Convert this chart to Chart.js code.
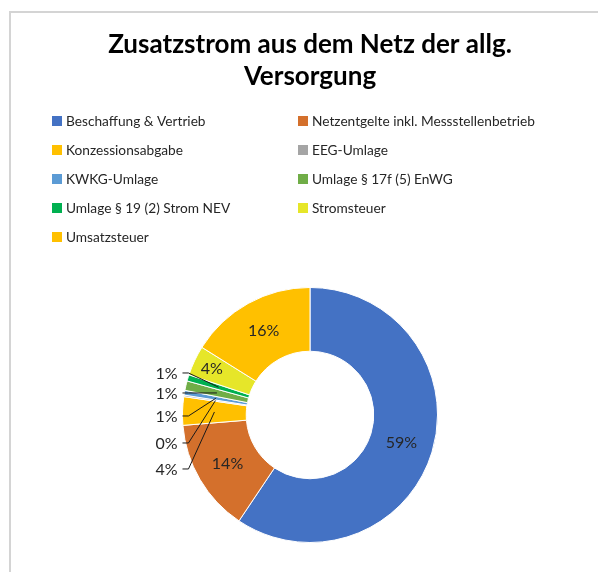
<!DOCTYPE html>
<html>
<head>
<meta charset="utf-8">
<script src="https://cdn.jsdelivr.net/npm/chart.js@4.4.1/dist/chart.umd.min.js"></script>
<style>
  html, body { margin: 0; padding: 0; background: #ffffff; }
  #wrap { position: relative; width: 598px; height: 572px; }
  canvas { display: block; }
</style>
</head>
<body>
<div id="wrap"><canvas id="c" width="598" height="572"></canvas></div>
<script>
// ---- data ----
const titleLines = ['Zusatzstrom aus dem Netz der allg.', 'Versorgung'];
const categories = [
  'Beschaffung & Vertrieb',
  'Netzentgelte inkl. Messstellenbetrieb',
  'Konzessionsabgabe',
  'EEG-Umlage',
  'KWKG-Umlage',
  'Umlage § 17f (5) EnWG',
  'Umlage § 19 (2) Strom NEV',
  'Stromsteuer',
  'Umsatzsteuer'
];
const shares = [59.4, 14.3, 3.6, 0.2, 0.6, 1.2, 0.8, 3.8, 16.1];
const colors = ['#4472C4', '#D4702C', '#FFC000', '#A5A5A5', '#5B9BD5', '#70AD47', '#00B050', '#E6E629', '#FFC000'];
// which slices get an outside label with a leader line
const outsideSlices = [2, 3, 4, 5, 6];

const FONT = 'Lato, "Open Sans", sans-serif';

const framePlugin = {
  id: 'frame',
  beforeDraw(chart) {
    const ctx = chart.ctx;
    ctx.save();
    ctx.fillStyle = '#ffffff';
    ctx.fillRect(0, 0, chart.width, chart.height);
    ctx.strokeStyle = '#D4D4D4';
    ctx.lineWidth = 2;
    ctx.beginPath();
    ctx.moveTo(10, chart.height);
    ctx.lineTo(10, 12);
    ctx.lineTo(chart.width, 12);
    ctx.stroke();
    ctx.restore();
  }
};

const gridLegendPlugin = {
  id: 'gridLegend',
  afterDraw(chart, args, opts) {
    const ctx = chart.ctx;
    const ds = chart.data.datasets[0];
    ctx.save();
    ctx.font = opts.fontSize + 'px ' + FONT;
    ctx.textBaseline = 'middle';
    ctx.textAlign = 'left';
    chart.data.labels.forEach((lab, i) => {
      const col = i % 2, row = Math.floor(i / 2);
      const x = opts.colX[col];
      const y = opts.top + row * opts.rowStep;
      ctx.fillStyle = ds.backgroundColor[i];
      ctx.fillRect(x, y - opts.box / 2, opts.box, opts.box);
      ctx.fillStyle = '#262626';
      ctx.fillText(lab, x + opts.box + 4, y + 1);
    });
    ctx.restore();
  }
};

const pctLabelPlugin = {
  id: 'pctLabels',
  afterDatasetsDraw(chart, args, opts) {
    const ctx = chart.ctx;
    const meta = chart.getDatasetMeta(0);
    const values = chart.data.datasets[0].data;
    const total = values.reduce((a, b) => a + b, 0);
    ctx.save();
    ctx.font = opts.fontSize + 'px ' + FONT;
    ctx.fillStyle = '#262626';
    ctx.textBaseline = 'middle';
    meta.data.forEach((arc, i) => {
      const pct = Math.round(values[i] / total * 100) + '%';
      const p = arc.getProps(['x', 'y', 'innerRadius', 'outerRadius', 'startAngle', 'endAngle'], true);
      const mid = (p.startAngle + p.endAngle) / 2;
      const rMid = (p.innerRadius + p.outerRadius) / 2;
      const px = p.x + Math.cos(mid) * rMid;
      const py = p.y + Math.sin(mid) * rMid;
      const k = opts.outside.indexOf(i);
      if (k === -1) {
        const push = opts.radialShift[i] || 0;
        ctx.textAlign = 'center';
        ctx.fillText(pct, p.x + Math.cos(mid) * (rMid + push), p.y + Math.sin(mid) * (rMid + push));
      } else {
        const ly = p.y + opts.outsideOffsets[k];
        const lx = p.x - p.outerRadius - 5;
        ctx.textAlign = 'right';
        ctx.fillText(pct, lx, ly + 1);
        ctx.strokeStyle = '#1a1a1a';
        ctx.lineWidth = 1;
        ctx.beginPath();
        ctx.moveTo(p.x - p.outerRadius, ly);
        ctx.lineTo(p.x - p.outerRadius + 6, ly);
        ctx.lineTo(px, py);
        ctx.stroke();
      }
    });
    ctx.restore();
  }
};

new Chart(document.getElementById('c'), {
  type: 'doughnut',
  data: {
    labels: categories,
    datasets: [{
      data: shares,
      backgroundColor: colors,
      borderColor: '#ffffff',
      borderWidth: 1
    }]
  },
  plugins: [framePlugin, gridLegendPlugin, pctLabelPlugin],
  options: {
    responsive: false,
    animation: false,
    cutout: '50%',
    layout: { padding: { left: 22, right: 0, top: 0, bottom: 29 } },
    plugins: {
      legend: { display: false },
      tooltip: { enabled: false },
      title: {
        display: true,
        text: titleLines,
        color: '#000000',
        font: { family: FONT, size: 26, weight: 'bold', lineHeight: 1.23 },
        padding: { top: 29, bottom: 194 }
      },
      gridLegend: { colX: [52, 298], top: 121, rowStep: 29, box: 10, fontSize: 13.7 },
      pctLabels: {
        fontSize: 16,
        outside: outsideSlices,
        outsideOffsets: [54, 28, 1, -22, -42],
        radialShift: { 7: 13 }
      }
    }
  }
});
</script>
</body>
</html>
